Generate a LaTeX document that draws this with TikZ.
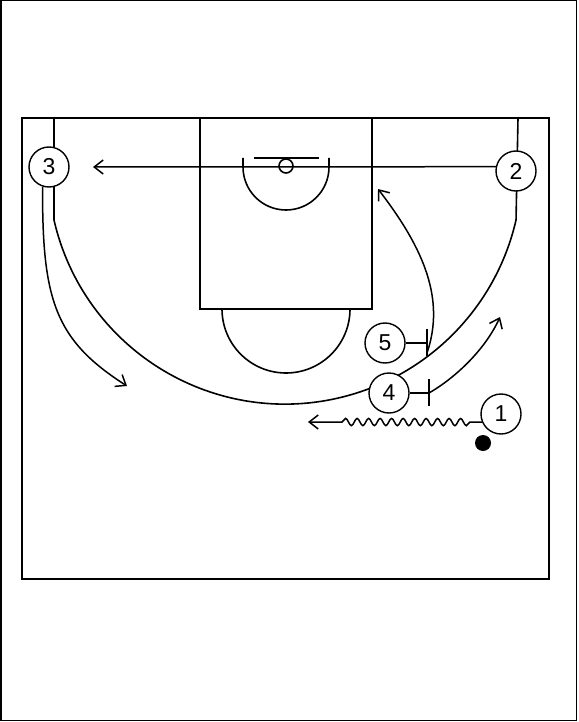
\documentclass[tikz,border=0pt]{standalone}
\usepackage{fontspec}
\newfontfamily\numfont{Liberation Sans}
\usepackage{tikz}
\usetikzlibrary{arrows.meta, positioning, decorations.pathmorphing}

\begin{document}
\begin{tikzpicture}[
    x=1pt, y=1pt,
    court/.style={line width=2pt},
    line/.style={line width=1.6pt},
    player/.style={circle, draw, line width=1.4pt, fill=white, minimum size=40pt, inner sep=0pt, font=\numfont\fontsize{23}{23}\selectfont},
    arrow/.style={line width=1.5pt, -{Straight Barb[length=9pt, width=14pt, line width=1.5pt]}},
    screen/.style={line width=1.5pt},
    dribble/.style={arrow, decorate, decoration={snake, amplitude=3.6pt, segment length=11.5pt, pre length=12pt, post length=32pt}}
]
  % Page and frame
  \useasboundingbox (0,0) rectangle (578,-722);
  \draw[line width=1.5pt] (0.75,-0.75) rectangle (576.5,-720.5);

  % Court
  \draw[court] (22,-118) rectangle (549,-579);
  \draw[court] (200,-118) rectangle (372,-309);
  \draw[line] (222,-309) arc[start angle=180, end angle=360, radius=64pt];
  \draw[line] (254,-158) -- (319,-158);
  \draw[line] (286,-166) circle[radius=7pt];
  \draw[line] (243,-158) -- (243,-167) arc[start angle=180, end angle=360, radius=43pt] -- (329,-158);
  \draw[line] (54,-118) -- (54,-220) arc[start angle=192.9, end angle=347.1, radius=237pt] -- (518,-118);

  % Players
  \node[player] (p3) at (49,-167) {3};
  \node[player] (p2) at (516,-171) {2};
  \node[player] (p5) at (385,-343) {5};
  \node[player] (p4) at (389,-393) {4};
  \node[player] (p1) at (501,-414) {1};
  \fill (483,-443) circle[radius=8pt] coordinate (ball);

  % Pass 2 to 3
  \coordinate (passend) at (93,-167);
  \draw[arrow] (p2.168) -- (passend);

  % Cut of 3
  \coordinate (cut3) at (127,-386);
  \draw[arrow] (p3.252) .. controls (42,-300) and (55,-340) .. (cut3);

  % Screen of 5
  \coordinate (s5) at (427,-343);
  \draw[screen] (p5.east) -- (s5);
  \draw[screen] ([yshift=14pt]s5) -- ([yshift=-13pt]s5);
  \coordinate (cut5) at (378,-189);
  \draw[arrow] ([yshift=-10pt]s5) .. controls (445,-300) and (425,-250) .. (cut5);

  % Screen of 4
  \coordinate (s4) at (429,-393);
  \draw[screen] (p4.east) -- (s4);
  \draw[screen] ([yshift=14pt]s4) -- ([yshift=-13pt]s4);
  \coordinate (cut4) at (500,-317);
  \draw[arrow] (s4) .. controls (455,-378) and (485,-350) .. (cut4);

  % Dribble of 1
  \coordinate (drib) at (308,-422);
  \draw[dribble] (p1.203) -- (drib);
\end{tikzpicture}
\end{document}
